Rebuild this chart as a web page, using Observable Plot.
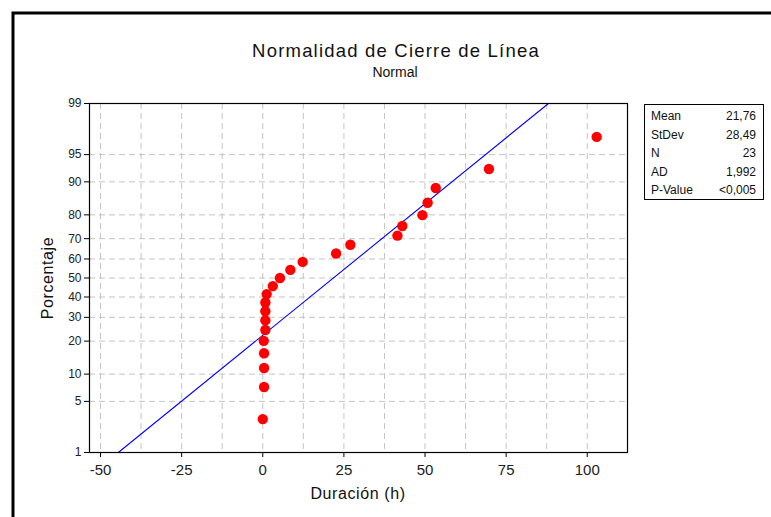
<!DOCTYPE html>
<html><head><meta charset="utf-8">
<script src="https://cdn.jsdelivr.net/npm/d3@7"></script>
<script src="https://cdn.jsdelivr.net/npm/@observablehq/plot@0.6"></script>
<style>
body{margin:0;background:#fff}
#chart{position:relative;width:771px;height:517px}
</style>
</head><body><div id="chart"></div>
<script>
// Data
const duracion = [0, 0.4, 0.4, 0.4, 0.3, 0.8, 0.8, 0.8, 0.8, 1.2, 3.1, 5.3, 8.5, 12.3, 22.6, 27.0, 41.5, 43.0, 49.2, 50.8, 53.3, 69.7, 102.9];
const porcentaje = [3.0, 7.3, 11.5, 15.8, 20.1, 24.4, 28.6, 32.9, 37.2, 41.5, 45.7, 50.0, 54.3, 58.5, 62.8, 67.1, 71.4, 75.6, 79.9, 84.2, 88.5, 92.7, 97.0];
const yTicks = [1, 5, 10, 20, 30, 40, 50, 60, 70, 80, 90, 95, 99];
const xTicks = [-50, -25, 0, 25, 50, 75, 100];
const xGrid = [-50, -37.5, -25, -12.5, 0, 12.5, 25, 37.5, 50, 62.5, 75, 87.5, 100];
const fitMean = 21.76, fitStDev = 28.49;
const lineEnds = [1, 99];
const statLabels = ["Mean", "StDev", "N", "AD", "P-Value"];
const statValues = ["21,76", "28,49", "23", "1,992", "<0,005"];
const title = "Normalidad de Cierre de Línea";
const subtitle = "Normal";
const xLabel = "Duración (h)";
const yLabel = "Porcentaje";

// inverse normal CDF (Acklam)
function qnorm(p) {
  const a = [-3.969683028665376e+01, 2.209460984245205e+02, -2.759285104469687e+02, 1.383577518672690e+02, -3.066479806614716e+01, 2.506628277459239e+00];
  const b = [-5.447609879822406e+01, 1.615858368580409e+02, -1.556989798598866e+02, 6.680131188771972e+01, -1.328068155288572e+01];
  const c = [-7.784894002430293e-03, -3.223964580411365e-01, -2.400758277161838e+00, -2.549732539343734e+00, 4.374664141464968e+00, 2.938163982698783e+00];
  const d = [7.784695709041462e-03, 3.224671290700398e-01, 2.445134137142996e+00, 3.754408661907416e+00];
  const pl = 0.02425, ph = 1 - pl;
  let q, r;
  if (p < pl) { q = Math.sqrt(-2 * Math.log(p)); return (((((c[0]*q+c[1])*q+c[2])*q+c[3])*q+c[4])*q+c[5]) / ((((d[0]*q+d[1])*q+d[2])*q+d[3])*q+1); }
  if (p <= ph) { q = p - 0.5; r = q*q; return (((((a[0]*r+a[1])*r+a[2])*r+a[3])*r+a[4])*r+a[5])*q / (((((b[0]*r+b[1])*r+b[2])*r+b[3])*r+b[4])*r+1); }
  q = Math.sqrt(-2 * Math.log(1 - p));
  return -(((((c[0]*q+c[1])*q+c[2])*q+c[3])*q+c[4])*q+c[5]) / ((((d[0]*q+d[1])*q+d[2])*q+d[3])*q+1);
}

const points = duracion.map((v, i) => ({x: v, z: qnorm(porcentaje[i] / 100)}));
const fitLine = lineEnds.map(p => ({x: fitMean + fitStDev * qnorm(p / 100), z: qnorm(p / 100)}));
const yTickZ = yTicks.map(p => qnorm(p / 100));
const fmt = new Map(yTickZ.map((z, i) => [z, yTicks[i]]));

const FONT = "'Liberation Sans', Arial, sans-serif";
const gridColor = "#c4c4c4";

const plot = Plot.plot({
  width: 771, height: 517,
  marginLeft: 89, marginRight: 144, marginTop: 103, marginBottom: 65,
  style: {fontFamily: FONT, color: "#222", background: "transparent"},
  x: {domain: [-53.4, 112.4], axis: null},
  y: {domain: [qnorm(0.01), qnorm(0.99)], axis: null},
  marks: [
    Plot.ruleX(xGrid, {stroke: gridColor, strokeDasharray: "6,4", strokeWidth: 1}),
    Plot.ruleY(yTickZ.slice(1, -1), {stroke: gridColor, strokeDasharray: "6,4", strokeWidth: 1}),
    Plot.line(fitLine, {x: "x", y: "z", stroke: "#0000ff", strokeWidth: 1.1}),
    Plot.dot(points, {x: "x", y: "z", r: 5.2, fill: "#ff0000", stroke: "none"}),
    Plot.frame({stroke: "#000", strokeWidth: 1.2}),
    Plot.axisX(xTicks, {tickSize: 5, tickPadding: 7, fontSize: 15, label: null, stroke: "#000", tickFormat: d => String(d)}),
    Plot.axisY(yTickZ, {tickSize: 5, tickPadding: 3, fontSize: 12, label: null, tickFormat: z => String(fmt.get(z)), stroke: "#000"})
  ]
});
document.getElementById("chart").appendChild(plot);

const svg = d3.select(plot);
// outer border (top & left)
svg.append("path").attr("d", "M13,517 V13 H771").attr("fill", "none").attr("stroke", "#000").attr("stroke-width", 3);
// titles
svg.append("text").attr("x", 396).attr("y", 57).attr("text-anchor", "middle")
  .style("font-family", FONT).style("font-size", "18.5px").style("letter-spacing", "1.2px").attr("fill", "#111").text(title);
svg.append("text").attr("x", 395).attr("y", 77).attr("text-anchor", "middle")
  .style("font-family", FONT).style("font-size", "14px").attr("fill", "#111").text(subtitle);
// axis labels
svg.append("text").attr("x", 358).attr("y", 499).attr("text-anchor", "middle")
  .style("font-family", FONT).style("font-size", "16px").style("letter-spacing", "0.6px").attr("fill", "#111").text(xLabel);
svg.append("text").attr("transform", "translate(53,278) rotate(-90)").attr("text-anchor", "middle")
  .style("font-family", FONT).style("font-size", "16px").style("letter-spacing", "0.6px").attr("fill", "#111").text(yLabel);
// stats box
svg.append("rect").attr("x", 644.5).attr("y", 104.5).attr("width", 119).attr("height", 95)
  .attr("fill", "#fff").attr("stroke", "#000").attr("stroke-width", 1);
statLabels.forEach((s, i) => {
  svg.append("text").attr("x", 651).attr("y", 120 + i * 18.5).attr("text-anchor", "start")
    .style("font-family", FONT).style("font-size", "12px").attr("fill", "#111").text(s);
  svg.append("text").attr("x", 756).attr("y", 120 + i * 18.5).attr("text-anchor", "end")
    .style("font-family", FONT).style("font-size", "12px").attr("fill", "#111").text(statValues[i]);
});
</script>
</body></html>
